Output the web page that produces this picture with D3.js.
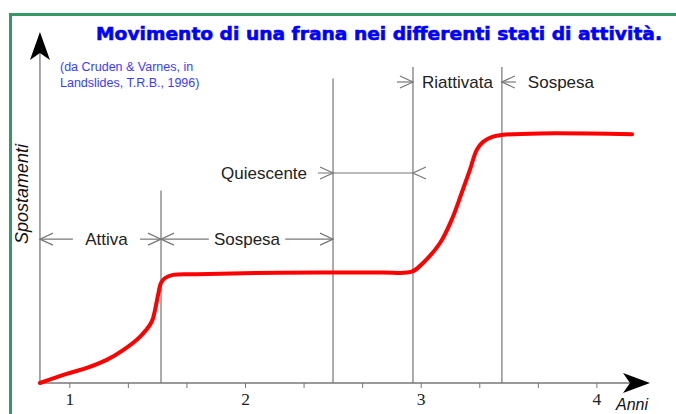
<!DOCTYPE html>
<html>
<head>
<meta charset="utf-8">
<script src="https://cdn.jsdelivr.net/npm/d3@7"></script>
<style>
  body { margin: 0; background: #fff; }
  svg { display: block; }
  .lbl { font-family: "Liberation Sans", Arial, sans-serif; font-size: 17px; fill: #222; }
</style>
</head>
<body>
<div id="chart"></div>
<script>
// Curve: years vs displacement (arbitrary units)
const years = [0.833, 0.985, 1.099, 1.213, 1.306, 1.402, 1.469, 1.488, 1.505, 1.522, 1.545, 1.590, 1.725, 2.199, 2.768, 2.949, 3.013, 3.110, 3.176, 3.233, 3.280, 3.319, 3.355, 3.411, 3.468, 3.679, 4.203];
const displacement = [0, 2.6, 4.3, 6.6, 9.4, 13.2, 17.5, 20.9, 25.1, 28.6, 30.0, 30.9, 31.1, 31.5, 31.6, 31.8, 34.3, 40, 46.6, 54.3, 60.9, 66.6, 68.9, 70.4, 70.9, 71.3, 71.1];

// phase boundaries (years) and how high their marker lines reach
const phaseBounds = [1.522, 2.501, 2.956, 3.462];
const boundTops = [55, 87, 90.3, 90.3];

// tick labels
const yearLabels = [1, 2, 3, 4];
const minorTicks = d3.range(0, 10).map(i => 1 + i / 3);

// annotation levels (same units as displacement)
const levelRow1 = 41.1;   // Attiva / Sospesa
const levelRow2 = 60;     // Quiescente
const levelRow3 = 86;     // Riattivata / Sospesa

const title = "Movimento di una frana nei differenti stati di attività.";
const source = ["(da Cruden & Varnes, in", "Landslides, T.R.B., 1996)"];

const width = 676, height = 414;

const svg = d3.select("#chart").append("svg")
    .attr("width", width)
    .attr("height", height);

// scales
const x = d3.scaleLinear().domain([1, 4]).range([69.3, 596.4]);
const y = d3.scaleLinear().domain([0, 100]).range([383, 33]);
const x0 = x(0.833);

// green frame
svg.append("rect")
    .attr("x", 10.5).attr("y", 14.5)
    .attr("width", 720).attr("height", 500)
    .attr("fill", "none")
    .attr("stroke", "#339966")
    .attr("stroke-width", 3);

// title + source
svg.append("text")
    .attr("x", 96).attr("y", 40)
    .attr("font-family", "DejaVu Sans, sans-serif")
    .attr("font-weight", "bold")
    .attr("font-size", 18.5)
    .attr("textLength", 566)
    .attr("lengthAdjust", "spacingAndGlyphs")
    .attr("fill", "#0000ff")
    .attr("stroke", "#0000ff")
    .attr("stroke-width", 0.6)
    .text(title);

svg.append("g").selectAll("text")
    .data(source)
    .enter().append("text")
    .attr("x", 60)
    .attr("y", (d, i) => 71 + i * 16)
    .attr("font-family", "Liberation Sans, Arial, sans-serif")
    .attr("font-size", 12.5)
    .attr("fill", "#3b3bff")
    .text(d => d);

// phase boundary lines
svg.append("g").selectAll("line")
    .data(phaseBounds)
    .enter().append("line")
    .attr("x1", d => x(d)).attr("x2", d => x(d))
    .attr("y1", y(0))
    .attr("y2", (d, i) => y(boundTops[i]))
    .attr("stroke", "#888")
    .attr("stroke-width", 1.4);

// x axis ticks
const xAxis = d3.axisBottom(x)
    .tickValues(minorTicks)
    .tickSize(5)
    .tickSizeOuter(0)
    .tickPadding(5)
    .tickFormat(d => yearLabels.includes(Math.round(d * 1000) / 1000) ? d : "");

const gx = svg.append("g")
    .attr("transform", `translate(0,${y(0)})`)
    .call(xAxis);
gx.select(".domain").remove();
gx.selectAll(".tick line").attr("stroke", "#777");
gx.selectAll(".tick text")
    .attr("font-family", "Liberation Serif, Times New Roman, serif")
    .attr("font-size", 17.5)
    .attr("fill", "#222");

// axis lines with arrow heads
const axisColor = "#777";
svg.append("line")
    .attr("x1", x0).attr("x2", 630)
    .attr("y1", y(0)).attr("y2", y(0))
    .attr("stroke", axisColor).attr("stroke-width", 1.3);
svg.append("line")
    .attr("x1", x0).attr("x2", x0)
    .attr("y1", y(0)).attr("y2", 52)
    .attr("stroke", axisColor).attr("stroke-width", 1.3);

svg.append("path")
    .attr("d", `M650,${y(0)} L623,${y(0) - 10} L630,${y(0)} L623,${y(0) + 10} Z`)
    .attr("fill", "#000");
svg.append("path")
    .attr("d", `M${x0},32 L${x0 - 10},60 L${x0},53 L${x0 + 10},60 Z`)
    .attr("fill", "#000");

svg.append("text")
    .attr("x", 616).attr("y", 410)
    .attr("font-family", "Liberation Sans, Arial, sans-serif")
    .attr("font-style", "italic")
    .attr("font-size", 16)
    .attr("fill", "#111")
    .text("Anni");

svg.append("text")
    .attr("transform", `translate(28,194) rotate(-90)`)
    .attr("text-anchor", "middle")
    .attr("font-family", "Liberation Sans, Arial, sans-serif")
    .attr("font-style", "italic")
    .attr("font-size", 18)
    .attr("fill", "#111")
    .text("Spostamenti");

// the displacement curve
const line = d3.line()
    .x((d, i) => x(years[i]))
    .y(d => y(d))
    .curve(d3.curveCatmullRom.alpha(0.5));

svg.append("path")
    .datum(displacement)
    .attr("d", line)
    .attr("fill", "none")
    .attr("stroke", "#ff0000")
    .attr("stroke-width", 4)
    .attr("stroke-linecap", "round")
    .attr("stroke-linejoin", "round");

// dimension annotations
const ann = svg.append("g")
    .attr("stroke", "#777")
    .attr("stroke-width", 1.2)
    .attr("fill", "none");

// open V arrowhead; dir = 1 points right, -1 points left
function arrowHead(xt, yt, dir) {
    ann.append("path")
        .attr("d", `M${xt - dir * 13},${yt - 6} L${xt},${yt} L${xt - dir * 13},${yt + 6}`);
}
function hLine(xa, xb, yy) {
    ann.append("line").attr("x1", xa).attr("x2", xb).attr("y1", yy).attr("y2", yy);
}
function label(txt, xx, yy, anchor) {
    svg.append("text")
        .attr("class", "lbl")
        .attr("x", xx).attr("y", yy + 6)
        .attr("text-anchor", anchor)
        .text(txt);
}

// row 1: Attiva | Sospesa (inside arrows)
const r1 = y(levelRow1);
const span1 = [[x0, x(phaseBounds[0]), "Attiva", 6], [x(phaseBounds[0]), x(phaseBounds[1]), "Sospesa", 0]];
span1.forEach(([a, b, txt, off]) => {
    const mid = (a + b) / 2 + off;
    const half = txt.length * 4.6 + 6;
    hLine(a, mid - half, r1);
    hLine(mid + half, b, r1);
    arrowHead(a, r1, -1);
    arrowHead(b, r1, 1);
    label(txt, mid, r1, "middle");
});

// row 2: Quiescente (outside arrows)
const r2 = y(levelRow2);
hLine(x(phaseBounds[1]) - 15, x(phaseBounds[2]), r2);
arrowHead(x(phaseBounds[1]), r2, 1);
arrowHead(x(phaseBounds[2]), r2, -1);
label("Quiescente", x(phaseBounds[1]) - 26, r2, "end");

// row 3: Riattivata / Sospesa
const r3 = y(levelRow3);
hLine(x(phaseBounds[2]) - 16, x(phaseBounds[2]), r3);
arrowHead(x(phaseBounds[2]), r3, 1);
hLine(x(phaseBounds[3]), x(phaseBounds[3]) + 14, r3);
arrowHead(x(phaseBounds[3]), r3, -1);
label("Riattivata", (x(phaseBounds[2]) + x(phaseBounds[3])) / 2, r3, "middle");
label("Sospesa", x(phaseBounds[3]) + 26, r3, "start");
</script>
</body>
</html>
